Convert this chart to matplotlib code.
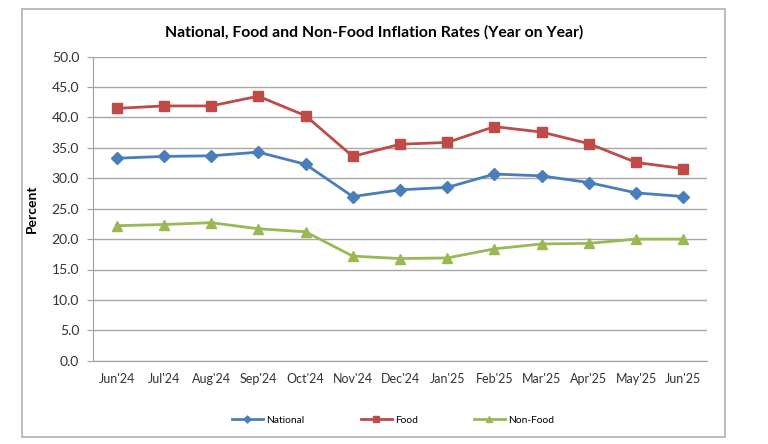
import matplotlib.pyplot as plt
from matplotlib.patches import Rectangle

plt.rcParams['font.family'] = ['Lato', 'DejaVu Sans']

months = ["Jun'24", "Jul'24", "Aug'24", "Sep'24", "Oct'24", "Nov'24", "Dec'24",
          "Jan'25", "Feb'25", "Mar'25", "Apr'25", "May'25", "Jun'25"]
national = [33.3, 33.6, 33.7, 34.3, 32.3, 27.0, 28.1, 28.5, 30.7, 30.4, 29.3, 27.6, 27.0]
food = [41.5, 41.9, 41.9, 43.5, 40.3, 33.6, 35.6, 35.9, 38.5, 37.6, 35.7, 32.6, 31.6]
non_food = [22.2, 22.4, 22.7, 21.7, 21.2, 17.2, 16.8, 16.9, 18.4, 19.2, 19.3, 20.0, 20.0]
yticks = [0, 5, 10, 15, 20, 25, 30, 35, 40, 45, 50]

fig = plt.figure(figsize=(7.68, 4.44), dpi=100)
ax = fig.add_axes([93 / 768, 1 - 360.7 / 444, 614 / 768, 304 / 444])

# outer chart border
fig.patches.append(Rectangle((22 / 768, 1 - 437 / 444), 703 / 768, 428 / 444,
                             transform=fig.transFigure, fill=False,
                             edgecolor='#b0b0b0', linewidth=1.2))

x = list(range(len(months)))
ax.plot(x, national, color='#4A7EBB', lw=2, marker='D', ms=6, label='National')
ax.plot(x, food, color='#BE4B48', lw=2, marker='s', ms=7.5, label='Food')
ax.plot(x, non_food, color='#98B954', lw=2, marker='^', ms=7.5, label='Non-Food')

ax.set_xlim(-0.5, len(months) - 0.5)
ax.set_ylim(0, 50)
ax.set_yticks(yticks)
ax.set_yticklabels([f'{v:.1f}' for v in yticks], fontsize=10, color='#333333')
ax.set_xticks(x)
ax.set_xticklabels(months, fontsize=9, color='#333333')
ax.tick_params(axis='y', length=4, color='#a0a0a0', pad=6)
ax.tick_params(axis='x', length=0, pad=9)
ax.grid(axis='y', color='#a8a8a8', linewidth=1)
ax.set_axisbelow(True)
for s in ['top', 'right']:
    ax.spines[s].set_visible(False)
for s in ['left', 'bottom']:
    ax.spines[s].set_color('#a0a0a0')

ax.set_ylabel('Percent', fontsize=10, fontweight='bold', labelpad=10)
fig.text(374.5 / 768, 1 - 32 / 444, 'National, Food and Non-Food Inflation Rates (Year on Year)',
         ha='center', va='center', fontsize=11.3, fontweight='bold')

fig.legend(loc='center', bbox_to_anchor=(393 / 768, 1 - 420 / 444), ncol=3,
           frameon=False, fontsize=7.4, markerscale=0.6, handlelength=3,
           columnspacing=5.5, handletextpad=0.3)

fig.savefig('out.png', dpi=100)
